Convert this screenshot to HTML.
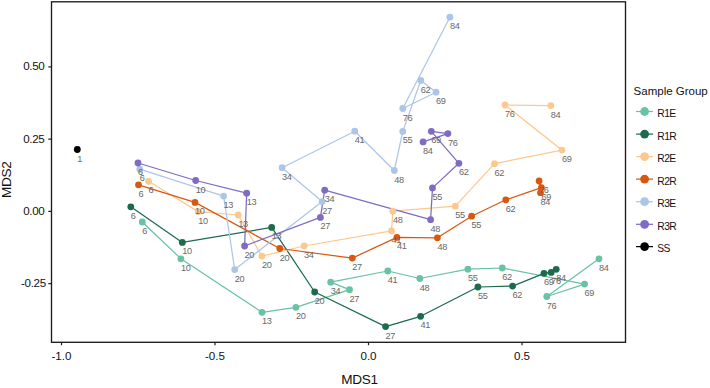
<!DOCTYPE html>
<html><head><meta charset="utf-8"><title>MDS plot</title>
<style>
html,body{margin:0;padding:0;background:#fff;}
body{width:710px;height:388px;overflow:hidden;font-family:"Liberation Sans",sans-serif;}
svg{display:block;transform:translateZ(0);}
text{font-family:"Liberation Sans",sans-serif;}
.tick{font-size:11.6px;fill:#111;}
.ty{letter-spacing:-0.3px;}
.lab{font-size:9.2px;letter-spacing:-0.35px;fill:#686868;}
.leg{font-size:10.3px;letter-spacing:-0.55px;fill:#111;}
</style></head><body>
<svg width="710" height="388" viewBox="0 0 710 388">
<rect x="0" y="0" width="710" height="388" fill="#ffffff"/>

<g fill="none" stroke-width="1.25" stroke-linejoin="round" stroke-linecap="butt">
<polyline stroke="#68c3a3" points="142.3,222.0 180.9,258.8 262.0,312.3 295.9,307.3 349.5,289.7 330.7,282.2 387.8,271.0 419.8,278.5 467.9,269.2 502.3,268.0 584.6,284.1 546.8,296.5 599.0,258.8"/>
<polyline stroke="#1c6b4f" points="130.8,206.8 182.3,242.4 271.7,227.4 314.7,292.0 385.6,326.6 420.6,316.3 477.9,287.0 512.6,286.1 544.0,273.3 551.2,272.4 556.2,269.3"/>
<polyline stroke="#fdc88e" points="148.6,181.3 198.2,211.6 238.2,215.0 261.9,256.1 304.1,246.0 391.5,230.9 392.9,211.2 455.3,206.2 494.5,163.7 561.9,150.1 505.0,105.0 550.8,105.6"/>
<polyline stroke="#d9580f" points="138.5,184.8 195.0,202.4 279.8,248.5 352.3,258.1 396.9,237.4 437.4,237.8 471.6,216.2 505.8,199.8 541.4,187.6 539.1,181.0 540.5,192.7"/>
<polyline stroke="#adc6e8" points="139.8,169.2 223.6,196.1 234.7,269.6 322.2,201.6 282.1,167.7 354.8,131.2 394.3,170.5 402.8,131.4 420.8,80.5 436.1,92.2 402.8,108.5 449.9,17.2"/>
<polyline stroke="#7f6bc4" points="138.0,163.0 195.7,180.5 246.7,193.2 244.6,246.0 320.4,217.4 324.7,190.2 430.6,219.7 432.5,187.9 458.9,163.3 431.3,131.3 447.9,133.6 423.1,141.9"/>
</g>
<g fill="#68c3a3">
<circle cx="142.3" cy="222.0" r="3.4"/>
<circle cx="180.9" cy="258.8" r="3.4"/>
<circle cx="262.0" cy="312.3" r="3.4"/>
<circle cx="295.9" cy="307.3" r="3.4"/>
<circle cx="349.5" cy="289.7" r="3.4"/>
<circle cx="330.7" cy="282.2" r="3.4"/>
<circle cx="387.8" cy="271.0" r="3.4"/>
<circle cx="419.8" cy="278.5" r="3.4"/>
<circle cx="467.9" cy="269.2" r="3.4"/>
<circle cx="502.3" cy="268.0" r="3.4"/>
<circle cx="584.6" cy="284.1" r="3.4"/>
<circle cx="546.8" cy="296.5" r="3.4"/>
<circle cx="599.0" cy="258.8" r="3.4"/>
</g>
<g fill="#1c6b4f">
<circle cx="130.8" cy="206.8" r="3.4"/>
<circle cx="182.3" cy="242.4" r="3.4"/>
<circle cx="271.7" cy="227.4" r="3.4"/>
<circle cx="314.7" cy="292.0" r="3.4"/>
<circle cx="385.6" cy="326.6" r="3.4"/>
<circle cx="420.6" cy="316.3" r="3.4"/>
<circle cx="477.9" cy="287.0" r="3.4"/>
<circle cx="512.6" cy="286.1" r="3.4"/>
<circle cx="544.0" cy="273.3" r="3.4"/>
<circle cx="551.2" cy="272.4" r="3.4"/>
<circle cx="556.2" cy="269.3" r="3.4"/>
</g>
<g fill="#fdc88e">
<circle cx="148.6" cy="181.3" r="3.4"/>
<circle cx="198.2" cy="211.6" r="3.4"/>
<circle cx="238.2" cy="215.0" r="3.4"/>
<circle cx="261.9" cy="256.1" r="3.4"/>
<circle cx="304.1" cy="246.0" r="3.4"/>
<circle cx="391.5" cy="230.9" r="3.4"/>
<circle cx="392.9" cy="211.2" r="3.4"/>
<circle cx="455.3" cy="206.2" r="3.4"/>
<circle cx="494.5" cy="163.7" r="3.4"/>
<circle cx="561.9" cy="150.1" r="3.4"/>
<circle cx="505.0" cy="105.0" r="3.4"/>
<circle cx="550.8" cy="105.6" r="3.4"/>
</g>
<g fill="#d9580f">
<circle cx="138.5" cy="184.8" r="3.4"/>
<circle cx="195.0" cy="202.4" r="3.4"/>
<circle cx="279.8" cy="248.5" r="3.4"/>
<circle cx="352.3" cy="258.1" r="3.4"/>
<circle cx="396.9" cy="237.4" r="3.4"/>
<circle cx="437.4" cy="237.8" r="3.4"/>
<circle cx="471.6" cy="216.2" r="3.4"/>
<circle cx="505.8" cy="199.8" r="3.4"/>
<circle cx="541.4" cy="187.6" r="3.4"/>
<circle cx="539.1" cy="181.0" r="3.4"/>
<circle cx="540.5" cy="192.7" r="3.4"/>
</g>
<g fill="#adc6e8">
<circle cx="139.8" cy="169.2" r="3.4"/>
<circle cx="223.6" cy="196.1" r="3.4"/>
<circle cx="234.7" cy="269.6" r="3.4"/>
<circle cx="322.2" cy="201.6" r="3.4"/>
<circle cx="282.1" cy="167.7" r="3.4"/>
<circle cx="354.8" cy="131.2" r="3.4"/>
<circle cx="394.3" cy="170.5" r="3.4"/>
<circle cx="402.8" cy="131.4" r="3.4"/>
<circle cx="420.8" cy="80.5" r="3.4"/>
<circle cx="436.1" cy="92.2" r="3.4"/>
<circle cx="402.8" cy="108.5" r="3.4"/>
<circle cx="449.9" cy="17.2" r="3.4"/>
</g>
<g fill="#7f6bc4">
<circle cx="138.0" cy="163.0" r="3.4"/>
<circle cx="195.7" cy="180.5" r="3.4"/>
<circle cx="246.7" cy="193.2" r="3.4"/>
<circle cx="244.6" cy="246.0" r="3.4"/>
<circle cx="320.4" cy="217.4" r="3.4"/>
<circle cx="324.7" cy="190.2" r="3.4"/>
<circle cx="430.6" cy="219.7" r="3.4"/>
<circle cx="432.5" cy="187.9" r="3.4"/>
<circle cx="458.9" cy="163.3" r="3.4"/>
<circle cx="431.3" cy="131.3" r="3.4"/>
<circle cx="447.9" cy="133.6" r="3.4"/>
<circle cx="423.1" cy="141.9" r="3.4"/>
</g>
<g fill="#000000">
<circle cx="77.3" cy="149.5" r="3.4"/>
</g>
<g class="lab">
<text x="142.3" y="234.0">6</text>
<text x="180.9" y="270.8">10</text>
<text x="262.0" y="324.3">13</text>
<text x="295.9" y="319.3">20</text>
<text x="349.5" y="301.7">27</text>
<text x="330.7" y="294.2">34</text>
<text x="387.8" y="283.0">41</text>
<text x="419.8" y="290.5">48</text>
<text x="467.9" y="281.2">55</text>
<text x="502.3" y="280.0">62</text>
<text x="584.6" y="296.1">69</text>
<text x="546.8" y="308.5">76</text>
<text x="599.0" y="270.8">84</text>
<text x="130.8" y="218.8">6</text>
<text x="182.3" y="254.4">10</text>
<text x="271.7" y="239.4">13</text>
<text x="314.7" y="304.0">20</text>
<text x="385.6" y="338.6">27</text>
<text x="420.6" y="328.3">41</text>
<text x="477.9" y="299.0">55</text>
<text x="512.6" y="298.1">62</text>
<text x="544.0" y="285.3">69</text>
<text x="551.2" y="284.4">76</text>
<text x="556.2" y="281.3">84</text>
<text x="148.6" y="193.3">6</text>
<text x="198.2" y="223.6">10</text>
<text x="238.2" y="227.0">13</text>
<text x="261.9" y="268.1">20</text>
<text x="304.1" y="258.0">34</text>
<text x="391.5" y="242.9">41</text>
<text x="392.9" y="223.2">48</text>
<text x="455.3" y="218.2">55</text>
<text x="494.5" y="175.7">62</text>
<text x="561.9" y="162.1">69</text>
<text x="505.0" y="117.0">76</text>
<text x="550.8" y="117.6">84</text>
<text x="138.5" y="196.8">6</text>
<text x="195.0" y="214.4">10</text>
<text x="279.8" y="260.5">20</text>
<text x="352.3" y="270.1">27</text>
<text x="396.9" y="249.4">41</text>
<text x="437.4" y="249.8">48</text>
<text x="471.6" y="228.2">55</text>
<text x="505.8" y="211.8">62</text>
<text x="541.4" y="199.6">69</text>
<text x="539.1" y="193.0">76</text>
<text x="540.5" y="204.7">84</text>
<text x="139.8" y="181.2">6</text>
<text x="223.6" y="208.1">13</text>
<text x="234.7" y="281.6">20</text>
<text x="322.2" y="213.6">27</text>
<text x="282.1" y="179.7">34</text>
<text x="354.8" y="143.2">41</text>
<text x="394.3" y="182.5">48</text>
<text x="402.8" y="143.4">55</text>
<text x="420.8" y="92.5">62</text>
<text x="436.1" y="104.2">69</text>
<text x="402.8" y="120.5">76</text>
<text x="449.9" y="29.2">84</text>
<text x="138.0" y="175.0">6</text>
<text x="195.7" y="192.5">10</text>
<text x="246.7" y="205.2">13</text>
<text x="244.6" y="258.0">20</text>
<text x="320.4" y="229.4">27</text>
<text x="324.7" y="202.2">34</text>
<text x="430.6" y="231.7">48</text>
<text x="432.5" y="199.9">55</text>
<text x="458.9" y="175.3">62</text>
<text x="431.3" y="143.3">69</text>
<text x="447.9" y="145.6">76</text>
<text x="423.1" y="153.9">84</text>
<text x="77.3" y="161.5">1</text>
</g>
<rect x="51.5" y="1.8" width="574.0" height="340.5" fill="none" stroke="#1c1c1c" stroke-width="1.35"/>
<g stroke="#1c1c1c" stroke-width="1.2">
<line x1="48.3" x2="51.5" y1="66.9" y2="66.9"/>
<line x1="48.3" x2="51.5" y1="139.15" y2="139.15"/>
<line x1="48.3" x2="51.5" y1="211.4" y2="211.4"/>
<line x1="48.3" x2="51.5" y1="283.65" y2="283.65"/>
<line x1="61.5" x2="61.5" y1="342.3" y2="345.2"/>
<line x1="215.0" x2="215.0" y1="342.3" y2="345.2"/>
<line x1="368.5" x2="368.5" y1="342.3" y2="345.2"/>
<line x1="522.0" x2="522.0" y1="342.3" y2="345.2"/>
</g>
<g class="tick ty" text-anchor="end">
<text x="44.5" y="70.3">0.50</text>
<text x="44.5" y="142.6">0.25</text>
<text x="44.5" y="214.8">0.00</text>
<text x="45.9" y="287.0">-0.25</text>
</g>
<g class="tick" text-anchor="middle">
<text x="61.5" y="360.4">-1.0</text>
<text x="215.0" y="360.4">-0.5</text>
<text x="368.5" y="360.4">0.0</text>
<text x="522.0" y="360.4">0.5</text>
</g>
<text x="359.5" y="383.8" text-anchor="middle" style="font-size:13.6px;letter-spacing:-0.3px;fill:#111">MDS1</text>
<text transform="translate(11.2,179.8) rotate(-90)" text-anchor="middle" style="font-size:13.6px;letter-spacing:-0.3px;fill:#111">MDS2</text>
<text x="633.6" y="95.3" style="font-size:11.5px;fill:#111">Sample Group</text>
<line x1="636.1" x2="653.0" y1="111.5" y2="111.5" stroke="#68c3a3" stroke-width="1.25"/>
<circle cx="644.6" cy="111.5" r="4.4" fill="#68c3a3"/>
<text class="leg" x="657.3" y="116.9">R1E</text>
<line x1="636.1" x2="653.0" y1="134.1" y2="134.1" stroke="#1c6b4f" stroke-width="1.25"/>
<circle cx="644.6" cy="134.1" r="4.4" fill="#1c6b4f"/>
<text class="leg" x="657.3" y="139.5">R1R</text>
<line x1="636.1" x2="653.0" y1="156.6" y2="156.6" stroke="#fdc88e" stroke-width="1.25"/>
<circle cx="644.6" cy="156.6" r="4.4" fill="#fdc88e"/>
<text class="leg" x="657.3" y="162.0">R2E</text>
<line x1="636.1" x2="653.0" y1="179.1" y2="179.1" stroke="#d9580f" stroke-width="1.25"/>
<circle cx="644.6" cy="179.1" r="4.4" fill="#d9580f"/>
<text class="leg" x="657.3" y="184.5">R2R</text>
<line x1="636.1" x2="653.0" y1="201.7" y2="201.7" stroke="#adc6e8" stroke-width="1.25"/>
<circle cx="644.6" cy="201.7" r="4.4" fill="#adc6e8"/>
<text class="leg" x="657.3" y="207.1">R3E</text>
<line x1="636.1" x2="653.0" y1="224.3" y2="224.3" stroke="#7f6bc4" stroke-width="1.25"/>
<circle cx="644.6" cy="224.3" r="4.4" fill="#7f6bc4"/>
<text class="leg" x="657.3" y="229.7">R3R</text>
<line x1="636.1" x2="653.0" y1="246.6" y2="246.6" stroke="#000000" stroke-width="1.25"/>
<circle cx="644.6" cy="246.6" r="4.4" fill="#000000"/>
<text class="leg" x="657.3" y="252.0">SS</text>
</svg>
</body></html>
